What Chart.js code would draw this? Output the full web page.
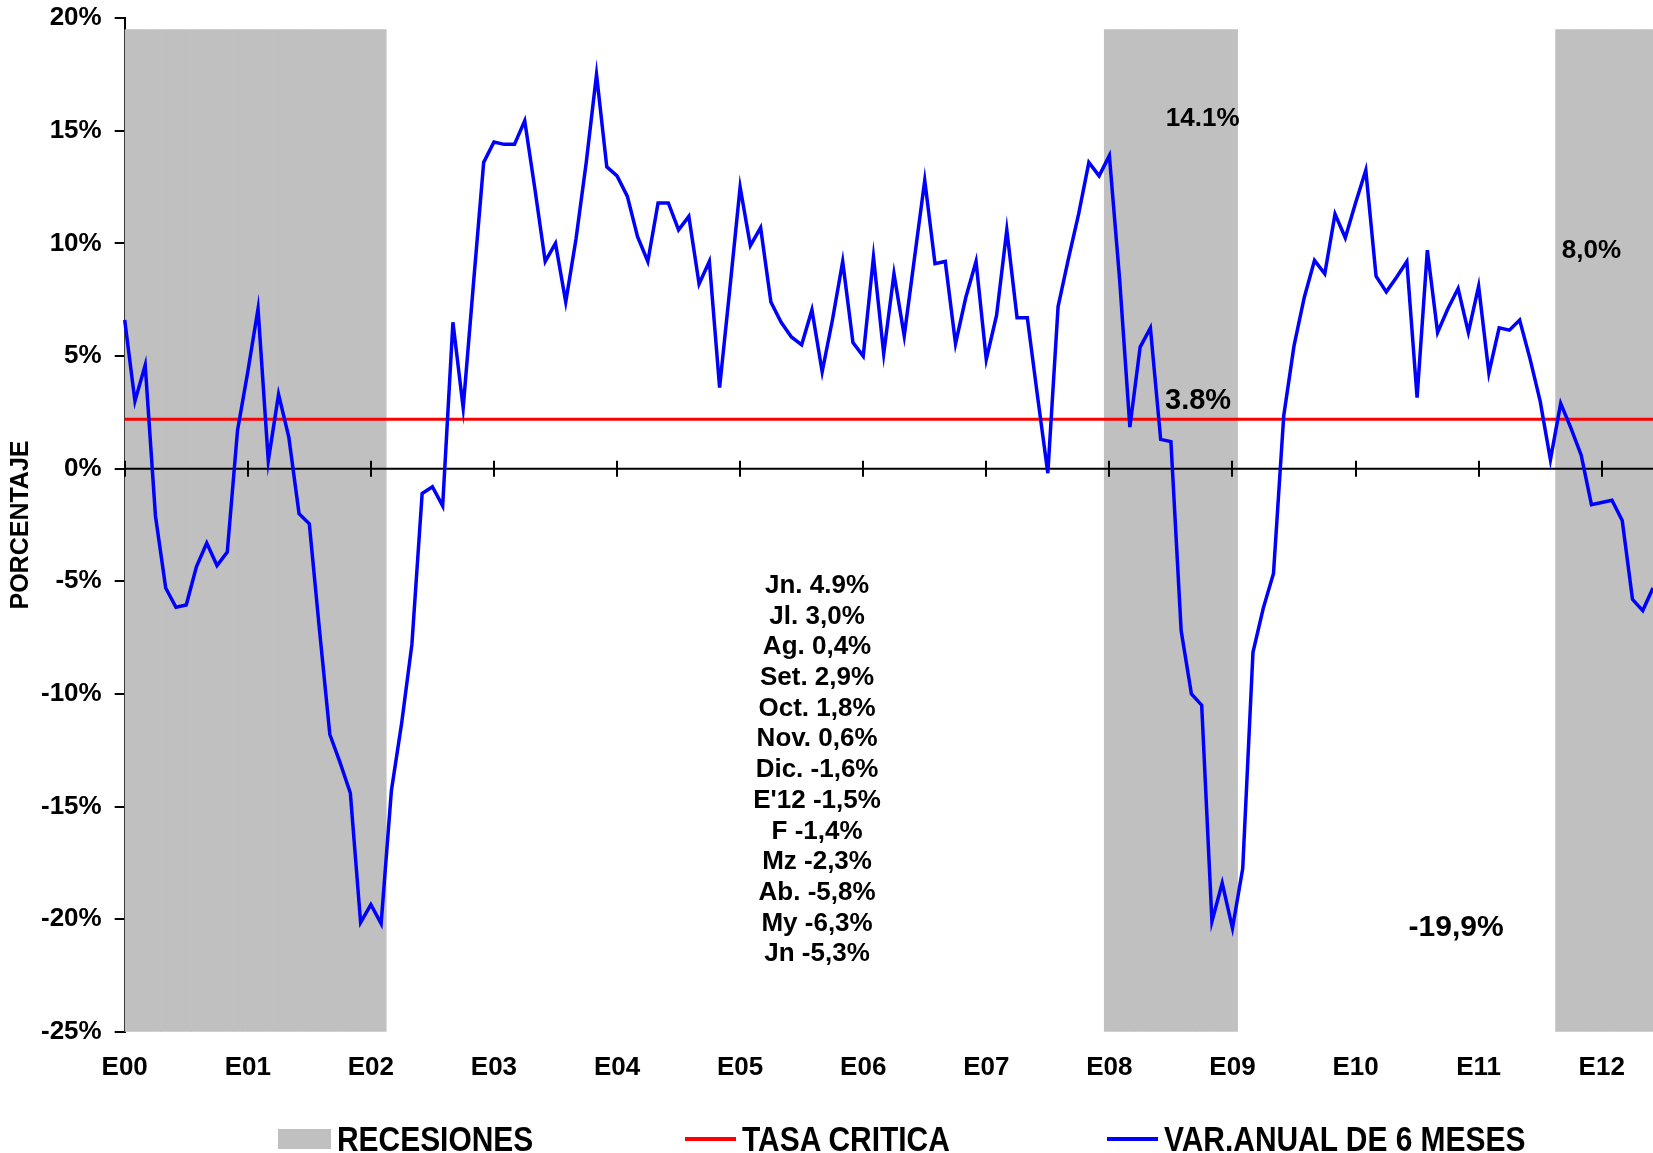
<!DOCTYPE html>
<html lang="es">
<head>
<meta charset="utf-8">
<title>Variación anual de 6 meses</title>
<script src="https://cdn.jsdelivr.net/npm/chart.js@4.4.1/dist/chart.umd.min.js"></script>
<style>
  html, body { margin: 0; padding: 0; background: #fff; }
  #contenedor { position: relative; width: 1653px; height: 1153px; }
  #leyenda .item {
    position: absolute; top: 1118px; height: 41px;
    display: flex; align-items: center; white-space: nowrap;
  }
  #leyenda .texto {
    display: inline-block;
    font: bold 35px 'Liberation Sans', Arial, sans-serif;
    color: #000;
    transform: scaleX(0.855);
    transform-origin: left center;
  }
</style>
</head>
<body>
<div id="contenedor">
  <canvas id="grafico"></canvas>
  <div id="leyenda"></div>
</div>
<script>
// Variación anual de 6 meses (%), un arreglo por año, de enero a diciembre
const var2000 = [6.6, 3.0, 4.6, -2.1, -5.3, -6.15, -6.05, -4.35, -3.3, -4.3, -3.7, 1.7];
const var2001 = [4.3, 7.1, 0.35, 3.3, 1.4, -2.0, -2.45, -7.2, -11.8, -13.05, -14.4, -20.15];
const var2002 = [-19.35, -20.2, -14.3, -11.3, -7.8, -1.1, -0.8, -1.65, 6.5, 2.7, 8.2, 13.6];
const var2003 = [14.5, 14.4, 14.4, 15.45, 12.4, 9.2, 10.0, 7.4, 10.2, 13.6, 17.5, 13.4];
const var2004 = [13.0, 12.1, 10.3, 9.2, 11.8, 11.8, 10.6, 11.2, 8.2, 9.2, 3.6, 8.0];
const var2005 = [12.5, 9.9, 10.7, 7.4, 6.5, 5.85, 5.5, 7.05, 4.3, 6.6, 9.2, 5.6];
const var2006 = [5.0, 9.4, 5.1, 8.65, 5.9, 9.35, 12.8, 9.1, 9.2, 5.55, 7.6, 9.2];
const var2007 = [4.85, 6.8, 10.6, 6.7, 6.7, 3.2, -0.2, 7.2, 9.3, 11.3, 13.6, 13.0];
const var2008 = [13.9, 8.4, 1.85, 5.4, 6.25, 1.3, 1.2, -7.2, -10.0, -10.5, -20.1, -18.4];
const var2009 = [-20.4, -17.75, -8.15, -6.2, -4.65, 2.35, 5.45, 7.6, 9.25, 8.65, 11.3, 10.25];
const var2010 = [11.8, 13.25, 8.55, 7.85, 8.5, 9.2, 3.15, 9.7, 6.05, 7.1, 8.0, 6.05];
const var2011 = [8.1, 4.25, 6.25, 6.15, 6.6, 4.9, 3.0, 0.4, 2.9, 1.8, 0.6, -1.6];
const var2012 = [-1.5, -1.4, -2.3, -5.8, -6.3, -5.3];

// Tasa crítica (%)
const TASA_CRITICA = 2.2;

// Periodos de recesión (mes inicial y final) y alto de la franja
const recesionInicio = ['E00', 'E08', 'S11'];
const recesionFin = ['F02', 'E09', 'Jn12'];
const FRANJA_MIN = -25;
const FRANJA_MAX = 19.5;

// Abreviaturas de los meses y años del eje
const abrevMeses = ['E', 'F', 'Mz', 'Ab', 'My', 'Jn', 'Jl', 'Ag', 'S', 'O', 'N', 'D'];
const anios = ['00', '01', '02', '03', '04', '05', '06', '07', '08', '09', '10', '11', '12'];

// Resumen de los últimos meses
const resumen = ['Jn. 4.9%', 'Jl. 3,0%', 'Ag. 0,4%', 'Set. 2,9%', 'Oct. 1,8%', 'Nov. 0,6%',
  'Dic. -1,6%', "E'12 -1,5%", 'F -1,4%', 'Mz -2,3%', 'Ab. -5,8%', 'My -6,3%', 'Jn -5,3%'];

const variacion = [].concat(var2000, var2001, var2002, var2003, var2004, var2005, var2006,
  var2007, var2008, var2009, var2010, var2011, var2012);

const meses = [];
anios.forEach(a => abrevMeses.forEach(m => meses.push(m + a)));
meses.length = variacion.length;

const enRecesion = new Array(meses.length).fill(false);
recesionInicio.forEach((ini, k) => {
  const desde = meses.indexOf(ini);
  const hasta = meses.indexOf(recesionFin[k]);
  for (let i = desde; i <= hasta; i++) enRecesion[i] = true;
});
const franjas = enRecesion.map(r => (r ? [FRANJA_MIN, FRANJA_MAX] : null));

const GRIS = '#C0C0C0';
const ROJO = '#FF0000';
const AZUL = '#0000FF';

Chart.defaults.font.family = "'Liberation Sans', Arial, sans-serif";
Chart.defaults.font.weight = 'bold';
Chart.defaults.color = '#000';

// Línea del cero con sus marcas anuales, por encima de las franjas grises
const ejeCero = {
  id: 'ejeCero',
  afterDatasetDraw(chart, args) {
    if (args.index !== 0) return;
    const { ctx, chartArea, scales: { x, y } } = chart;
    const y0 = y.getPixelForValue(0);
    ctx.save();
    ctx.strokeStyle = '#000';
    ctx.lineWidth = 2;
    ctx.beginPath();
    ctx.moveTo(chartArea.left, y0);
    ctx.lineTo(chartArea.right, y0);
    for (let i = 0; i < meses.length; i += 12) {
      const px = Math.round(x.getPixelForValue(i));
      ctx.moveTo(px, y0 - 8);
      ctx.lineTo(px, y0 + 8);
    }
    ctx.stroke();
    ctx.restore();
  }
};

// Rótulos sueltos del gráfico
const notas = [
  { texto: '14.1%', mes: 105.1, valor: 15.55, tam: 26 },
  { texto: '3.8%', mes: 104.65, valor: 3.0, tam: 29 },
  { texto: '8,0%', mes: 143.0, valor: 9.65, tam: 26 },
  { texto: '-19,9%', mes: 129.8, valor: -20.4, tam: 30 }
];

const rotulos = {
  id: 'rotulos',
  afterDraw(chart) {
    const { ctx, scales: { x, y } } = chart;
    ctx.save();
    ctx.fillStyle = '#000';
    ctx.textAlign = 'center';
    ctx.textBaseline = 'middle';
    notas.forEach(n => {
      ctx.font = `bold ${n.tam}px 'Liberation Sans', Arial, sans-serif`;
      ctx.fillText(n.texto, x.getPixelForValue(n.mes), y.getPixelForValue(n.valor));
    });
    ctx.font = "bold 26px 'Liberation Sans', Arial, sans-serif";
    const cx = x.getPixelForValue(67.5);
    const y1 = y.getPixelForValue(-5.2);
    resumen.forEach((linea, i) => ctx.fillText(linea, cx, y1 + i * 30.7));
    ctx.restore();
  }
};

const chart = new Chart(document.getElementById('grafico'), {
  type: 'line',
  data: {
    labels: meses,
    datasets: [
      {
        type: 'bar',
        label: 'RECESIONES',
        data: franjas,
        backgroundColor: GRIS,
        borderWidth: 0,
        barPercentage: 1,
        categoryPercentage: 1,
        order: 3
      },
      {
        label: 'TASA CRITICA',
        data: meses.map(() => TASA_CRITICA),
        borderColor: ROJO,
        backgroundColor: ROJO,
        borderWidth: 3,
        pointRadius: 0,
        order: 2
      },
      {
        label: 'VAR.ANUAL DE 6 MESES',
        data: variacion,
        borderColor: AZUL,
        backgroundColor: AZUL,
        borderWidth: 3.5,
        pointRadius: 0,
        tension: 0,
        order: 1
      }
    ]
  },
  options: {
    responsive: true,
    maintainAspectRatio: false,
    animation: false,
    layout: { padding: { top: 0, right: 0, bottom: 50, left: 0 } },
    plugins: {
      legend: { display: false },
      tooltip: { enabled: false }
    },
    scales: {
      x: {
        type: 'category',
        offset: false,
        grid: { display: false, drawTicks: false },
        border: { display: false },
        ticks: {
          autoSkip: false,
          maxRotation: 0,
          padding: 20,
          font: { size: 26, weight: 'bold' },
          callback(value, i) {
            return i % 12 === 0 ? this.getLabelForValue(value) : null;
          }
        }
      },
      y: {
        min: -25,
        max: 20,
        z: 1,
        ticks: {
          stepSize: 5,
          padding: 13,
          font: { size: 26, weight: 'bold', lineHeight: 0.4 },
          callback: v => v + '%'
        },
        grid: { drawOnChartArea: false, tickLength: 10, color: '#000', lineWidth: 2 },
        border: { color: '#000', width: 2 },
        title: {
          display: true,
          text: 'PORCENTAJE',
          font: { size: 25, weight: 'bold' },
          padding: { top: 6, bottom: -8 }
        }
      }
    }
  },
  plugins: [ejeCero, rotulos]
});

// Leyenda en HTML, armada desde las series del gráfico
const posLeyenda = [278, 685, 1107];
const leyenda = document.getElementById('leyenda');
chart.data.datasets.forEach((ds, i) => {
  const item = document.createElement('div');
  item.className = 'item';
  item.style.left = posLeyenda[i] + 'px';
  const muestra = document.createElement('span');
  muestra.style.display = 'inline-block';
  muestra.style.marginRight = '6px';
  if (ds.type === 'bar') {
    muestra.style.width = '53px';
    muestra.style.height = '20px';
    muestra.style.background = ds.backgroundColor;
  } else {
    muestra.style.width = '51px';
    muestra.style.height = '4px';
    muestra.style.background = ds.borderColor;
  }
  const texto = document.createElement('span');
  texto.className = 'texto';
  texto.textContent = ds.label;
  item.appendChild(muestra);
  item.appendChild(texto);
  leyenda.appendChild(item);
});
</script>
</body>
</html>
